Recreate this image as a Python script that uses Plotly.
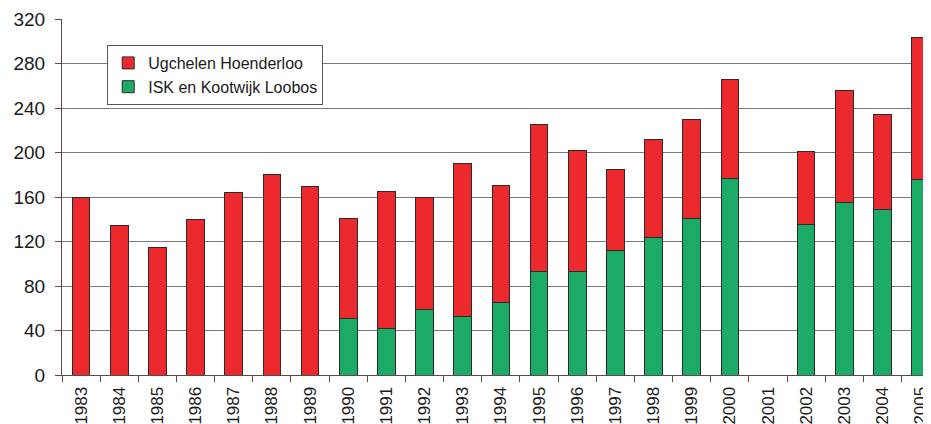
import plotly.graph_objects as go

years = [str(y) for y in range(1983, 2006)]
totals = [160, 134, 115, 140, 164, 180, 169, 141, 165, 160, 190, 170, 225, 202,
          185, 212, 230, 266, 0, 201, 256, 234, 303]
green = [0, 0, 0, 0, 0, 0, 0, 51, 42, 59, 53, 65, 93, 93,
         112, 124, 141, 177, 0, 135, 155, 149, 176]
red = [t - g for t, g in zip(totals, green)]

y_ticks = list(range(0, 321, 40))

fig = go.Figure()
fig.add_trace(go.Bar(
    x=years, y=green, name="ISK en Kootwijk Loobos",
    marker=dict(color="#1bab67", line=dict(color="#2a2a2a", width=1)),
))
fig.add_trace(go.Bar(
    x=years, y=red, name="Ugchelen Hoenderloo",
    marker=dict(color="#ec2a2e", line=dict(color="#2a2a2a", width=1)),
))

fig.update_layout(
    barmode="stack",
    bargap=0.54,
    width=931, height=424,
    margin=dict(l=54, r=8, t=11, b=57, autoexpand=False),
    paper_bgcolor="white",
    plot_bgcolor="white",
    font=dict(family="Liberation Sans, Arial, sans-serif", color="#1a1a1a"),
    showlegend=True,
    legend=dict(
        x=0.052, y=0.927, xanchor="left", yanchor="top",
        bgcolor="white", bordercolor="#555555", borderwidth=1,
        font=dict(size=16, color="#1a1a1a"),
        traceorder="reversed",
        tracegroupgap=0,
        itemwidth=30,
    ),
    xaxis=dict(
        type="category",
        range=[-0.5, 22.27],
        tickangle=-90,
        ticks="outside", ticklen=6, tickcolor="#5a4a4a",
        tickson="boundaries",
        showline=True, linecolor="#5a4a4a", linewidth=1,
        showgrid=False,
        automargin=False,
        tickfont=dict(size=17, color="#1a1a1a"),
        ticklabelstandoff=4,
    ),
    yaxis=dict(
        range=[0, 320],
        tickvals=y_ticks,
        ticks="outside", ticklen=6, tickcolor="#5a4a4a",
        showline=True, linecolor="#5a4a4a", linewidth=1,
        showgrid=True, gridcolor="#7a7a7a", gridwidth=1.2,
        zeroline=False,
        automargin=False,
        tickfont=dict(size=19, color="#1a1a1a"),
        ticklabelstandoff=6,
    ),
)

fig.write_html("out.html")
